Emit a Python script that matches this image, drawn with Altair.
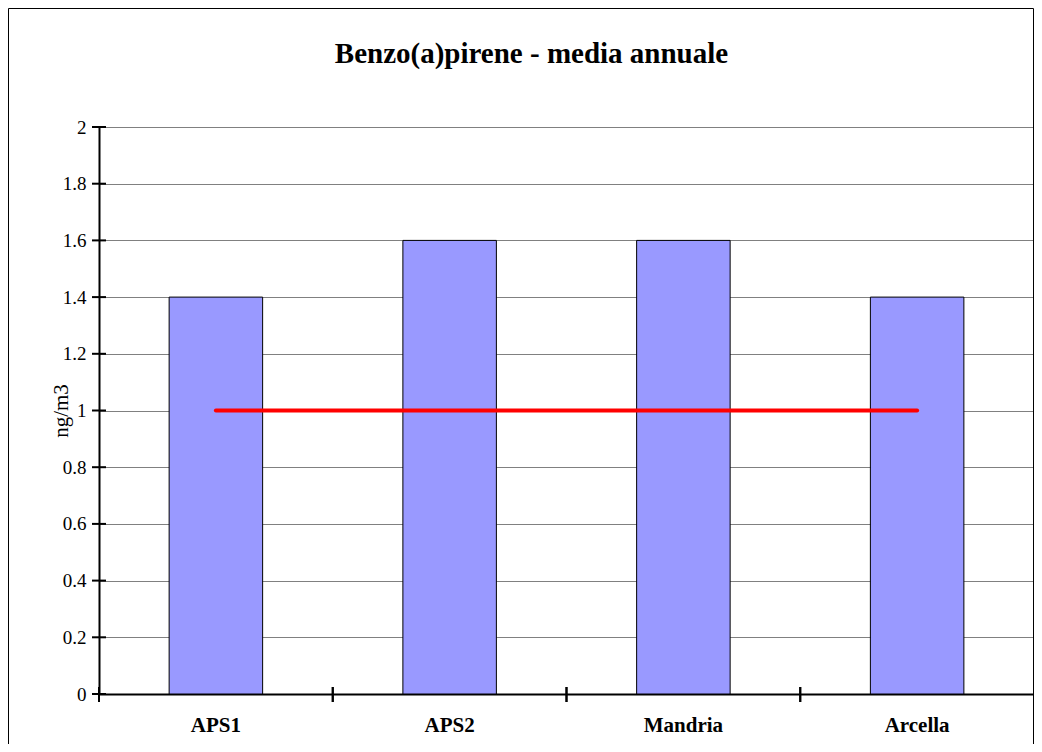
import altair as alt
import pandas as pd

categories = ["APS1", "APS2", "Mandria", "Arcella"]
values = [1.4, 1.6, 1.6, 1.4]
limit_values = [1.0, 1.0, 1.0, 1.0]
y_ticks = [0, 0.2, 0.4, 0.6, 0.8, 1.0, 1.2, 1.4, 1.6, 1.8, 2.0]
title_text = "Benzo(a)pirene - media annuale"
y_title = "ng/m3"

FONT = "Liberation Serif"
W, H = 935, 567
PL, PT = 91, 119

bars_df = pd.DataFrame({"cat": categories, "val": values})
limit_df = pd.DataFrame({"cat": categories, "val": limit_values})
ticks_df = pd.DataFrame({"val": y_ticks})
cats_df = pd.DataFrame({"cat": categories})
one = alt.Data(values=[{"k": 1}])

xscale = alt.Scale(domain=categories, paddingInner=0, paddingOuter=0)
yscale = alt.Scale(domain=[0, 2], nice=False, zero=True)

bars = alt.Chart(bars_df).mark_bar(
    color="#9999FF", stroke="#000000", strokeWidth=1, width={"band": 0.4}
).encode(
    x=alt.X("cat:N", scale=xscale, sort=categories, title=None,
            axis=alt.Axis(ticks=False, tickSize=0, labelPadding=20, labelAngle=0,
                          labelFont=FONT, labelFontSize=21, labelFontWeight="bold",
                          labelColor="#000000", domainColor="#000000", domainWidth=2,
                          grid=False, title=None)),
    y=alt.Y("val:Q", scale=yscale, title=y_title,
            axis=alt.Axis(values=y_ticks, format=".1~f", ticks=False, tickSize=0,
                          labelPadding=13, labelFont=FONT, labelFontSize=19,
                          labelColor="#000000", labelBaseline="middle",
                          domainColor="#000000", domainWidth=2,
                          grid=True, gridColor="#808080", gridWidth=1,
                          title=y_title,
                          titleFont=FONT, titleFontSize=21, titleFontWeight="normal",
                          titleColor="#000000", titleX=-32, titleY=H / 2,
                          titleAngle=270, titleBaseline="alphabetic", titleAlign="center")),
)

line = alt.Chart(limit_df).mark_line(
    color="#FF0000", strokeWidth=4, strokeCap="round"
).encode(
    x=alt.X("cat:N", scale=xscale, sort=categories),
    y=alt.Y("val:Q", scale=yscale),
)

ytick_rules = alt.Chart(ticks_df).mark_rule(color="#000000", strokeWidth=2).encode(
    y=alt.Y("val:Q", scale=yscale),
    x=alt.value(-7), x2=alt.value(7),
)

xtick_rules0 = alt.Chart(cats_df).mark_rule(color="#000000", strokeWidth=2).encode(
    x=alt.X("cat:N", scale=xscale, sort=categories, bandPosition=0),
    y=alt.value(H - 7), y2=alt.value(H + 8),
)
xtick_rules1 = alt.Chart(cats_df).mark_rule(color="#000000", strokeWidth=2).encode(
    x=alt.X("cat:N", scale=xscale, sort=categories, bandPosition=1),
    y=alt.value(H - 7), y2=alt.value(H + 8),
)

title = alt.Chart(one).mark_text(
    text=title_text, font=FONT, fontSize=29, fontWeight="bold", color="#000000",
    align="center", baseline="alphabetic"
).encode(x=alt.value(531.5 - 8 - PL), y=alt.value(63 - 8 - PT))

frame_left = alt.Chart(one).mark_rule(color="#000000", strokeWidth=1).encode(
    x=alt.value(-PL + 0.5), y=alt.value(-PT + 0.5), y2=alt.value(H + 60))
frame_top = alt.Chart(one).mark_rule(color="#000000", strokeWidth=1).encode(
    x=alt.value(-PL + 0.5), x2=alt.value(W - 0.5), y=alt.value(-PT + 0.5))
frame_right = alt.Chart(one).mark_rule(color="#000000", strokeWidth=1).encode(
    x=alt.value(W - 0.5), y=alt.value(-PT + 0.5), y2=alt.value(H + 60))

chart = alt.layer(
    bars, line, ytick_rules, xtick_rules0, xtick_rules1, title,
    frame_left, frame_top, frame_right
).properties(
    width=W, height=H,
    autosize=alt.AutoSizeParams(type="none"),
    padding={"left": PL, "top": PT, "right": 0, "bottom": 50},
    background="#FFFFFF",
).configure_view(stroke=None)

chart.save("out.html", embed_options={"renderer": "svg", "actions": False})
